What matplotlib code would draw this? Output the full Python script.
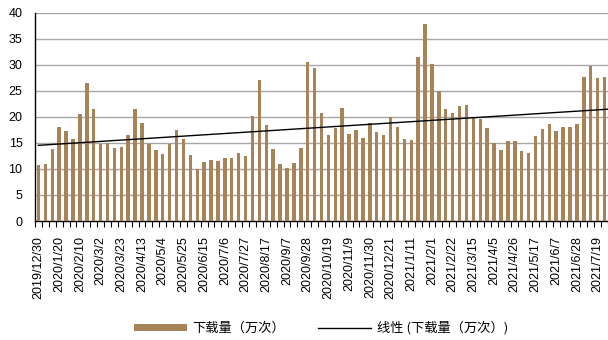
import matplotlib
matplotlib.use("Agg")
import matplotlib.pyplot as plt
import numpy as np
from matplotlib.patches import Patch
from matplotlib.lines import Line2D

plt.rcParams['font.family'] = ['Liberation Sans', 'Noto Sans CJK SC', 'DejaVu Sans']

tick_labels = ["2019/12/30", "2020/1/20", "2020/2/10", "2020/3/2", "2020/3/23", "2020/4/13",
               "2020/5/4", "2020/5/25", "2020/6/15", "2020/7/6", "2020/7/27", "2020/8/17",
               "2020/9/7", "2020/9/28", "2020/10/19", "2020/11/9", "2020/11/30", "2020/12/21",
               "2021/1/11", "2021/2/1", "2021/2/22", "2021/3/15", "2021/4/5", "2021/4/26",
               "2021/5/17", "2021/6/7", "2021/6/28", "2021/7/19"]

downloads = [10.8, 11.0, 13.9, 18.0, 17.3, 15.8, 20.5, 26.5, 21.4, 14.8,
             14.9, 14.0, 14.2, 16.5, 21.5, 18.8, 14.8, 13.6, 12.8, 14.7,
             17.5, 15.7, 12.6, 10.0, 11.3, 11.8, 11.6, 12.0, 12.1, 13.1,
             12.5, 20.1, 27.1, 18.5, 13.8, 11.0, 10.2, 11.2, 14.1, 30.5,
             29.4, 20.8, 16.5, 17.9, 21.6, 16.7, 17.4, 16.0, 18.9, 17.0,
             16.6, 19.9, 18.1, 15.8, 15.6, 31.4, 37.9, 30.1, 25.0, 21.5,
             20.8, 22.0, 22.2, 19.9, 19.5, 17.9, 14.9, 13.7, 15.4, 15.3,
             13.4, 13.0, 16.3, 17.7, 18.6, 17.2, 18.0, 18.0, 18.6, 27.6,
             29.8, 27.4, 27.6]

series_name = "下载量（万次）"
trend_name = "线性 (下载量（万次）)"

bar_color = "#A78359"

fig = plt.figure(figsize=(6.08, 3.4), dpi=100)
ax = fig.add_axes([35/608, 0.35, 1 - 35/608, 0.613])

x = np.arange(len(downloads))
ax.bar(x, downloads, width=0.5, color=bar_color, zorder=3)

coef = np.polyfit(x, downloads, 1)
xt = np.array([x[0], x[-1] + 0.5])
ax.plot(xt, np.polyval(coef, xt), color="black", lw=1.0, zorder=4)

ax.set_xlim(-0.36, 82.2)
ax.set_ylim(0, 40)
ax.set_yticks(np.arange(0, 41, 5))
ax.yaxis.grid(True, color="#A6A6A6", lw=1.0, zorder=0)
ax.set_axisbelow(True)

for s in ["top", "right"]:
    ax.spines[s].set_visible(False)
ax.spines["left"].set_color("black")
ax.spines["bottom"].set_color("black")
ax.spines["left"].set_linewidth(1.0)
ax.spines["bottom"].set_linewidth(1.0)

ax.set_xticks(np.arange(0, len(downloads), 3))
ax.set_xticklabels(tick_labels, rotation=90, fontsize=9)
ax.set_xticks(np.arange(-0.5, len(downloads), 1), minor=True)
ax.tick_params(axis="x", which="major", length=0, pad=11)
ax.tick_params(axis="x", which="minor", length=4, width=0.8, direction="out")
ax.tick_params(axis="y", length=0, pad=9, labelsize=9)

handles = [Patch(facecolor=bar_color, edgecolor="none"),
           Line2D([0], [0], color="black", lw=1.0)]
fig.legend(handles, [series_name, trend_name], loc="center", bbox_to_anchor=(0.528, 0.035),
           ncol=2, frameon=False, handlelength=4.0, handleheight=0.5,
           handletextpad=0.45, columnspacing=2.5,
           prop={'family': ['Noto Sans CJK SC', 'DejaVu Sans'], 'size': 9.5})

fig.savefig("out.png", dpi=100)
